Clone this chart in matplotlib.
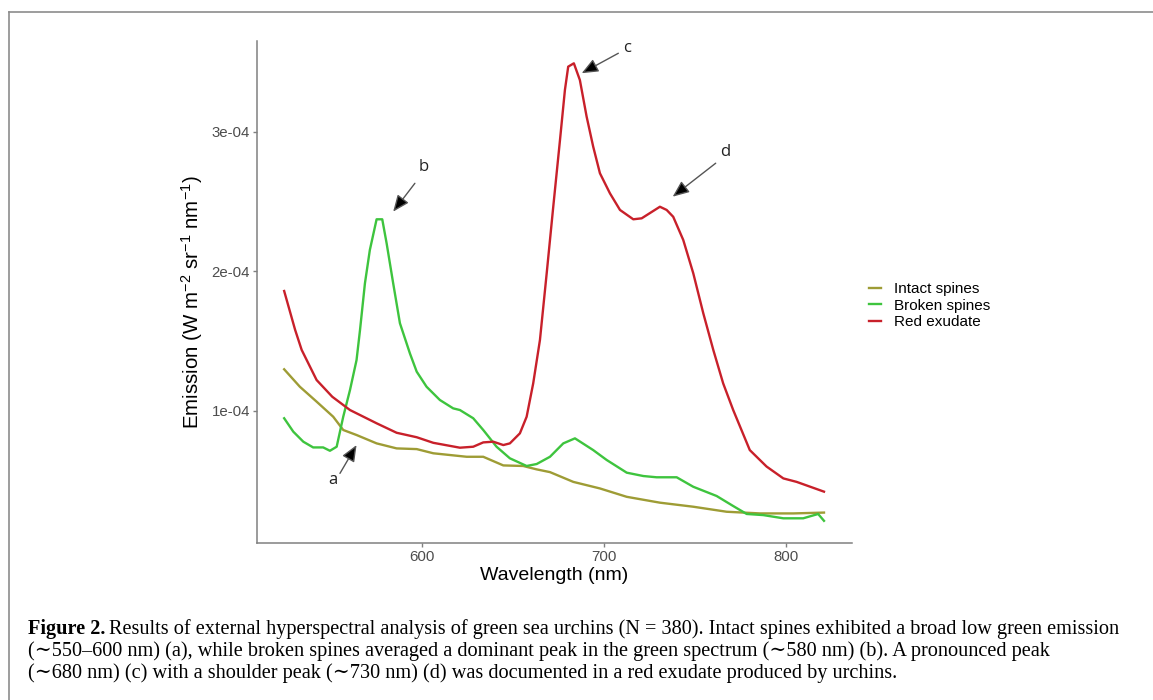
import matplotlib.pyplot as plt
from matplotlib.lines import Line2D

plt.rcParams['font.family'] = ['Liberation Sans', 'DejaVu Sans']
plt.rcParams['mathtext.fontset'] = 'custom'
plt.rcParams['mathtext.rm'] = 'Liberation Sans'
plt.rcParams['mathtext.it'] = 'Liberation Sans:italic'
plt.rcParams['mathtext.bf'] = 'Liberation Sans:bold'

# wavelength (nm) and emission (in units of 1e-4 W m-2 sr-1 nm-1)
intact_wl = [524.6, 533.2, 542.4, 551.5, 557.0, 564.3, 575.3, 586.3, 597.3, 606.4,
             624.7, 633.8, 644.8, 655.7, 663.0, 670.4, 683.2, 697.8, 712.5, 730.7,
             749.0, 767.3, 785.6, 803.9, 820.7]
intact_em = [1.297, 1.172, 1.065, 0.957, 0.862, 0.826, 0.766, 0.730, 0.725, 0.695,
             0.670, 0.670, 0.608, 0.604, 0.580, 0.560, 0.490, 0.443, 0.383, 0.341,
             0.312, 0.276, 0.264, 0.264, 0.270]

broken_wl = [524.6, 529.6, 535.1, 540.5, 546.0, 549.7, 553.4, 557.0, 560.7, 564.3,
             566.2, 568.9, 571.6, 575.3, 578.4, 580.8, 584.4, 588.1, 593.6, 597.3,
             602.7, 610.0, 617.3, 621.0, 628.3, 633.8, 641.1, 648.4, 657.6, 663.1,
             670.4, 677.7, 684.1, 694.1, 701.5, 712.5, 721.6, 728.9, 739.9, 749.0,
             761.8, 770.9, 778.3, 787.4, 798.4, 809.3, 817.5, 820.7]
broken_em = [0.946, 0.850, 0.778, 0.737, 0.737, 0.713, 0.742, 0.957, 1.148, 1.363,
             1.578, 1.913, 2.152, 2.372, 2.372, 2.200, 1.913, 1.627, 1.410, 1.280,
             1.172, 1.077, 1.017, 1.005, 0.946, 0.862, 0.742, 0.659, 0.604, 0.618,
             0.670, 0.766, 0.802, 0.718, 0.647, 0.556, 0.532, 0.523, 0.523, 0.455,
             0.389, 0.317, 0.260, 0.252, 0.229, 0.229, 0.260, 0.211]

red_wl = [524.6, 530.6, 534.2, 542.4, 551.0, 560.7, 575.3, 586.3, 597.3, 606.4,
          621.0, 628.3, 633.8, 639.3, 644.8, 648.4, 653.9, 657.6, 661.2, 664.9,
          668.6, 672.2, 675.9, 678.6, 680.4, 683.5, 686.8, 690.5, 694.1, 697.8,
          703.3, 708.8, 716.1, 720.7, 730.7, 734.4, 738.0, 743.5, 749.0, 754.5,
          760.0, 765.4, 770.9, 780.0, 789.2, 798.4, 805.7, 820.7]
red_em = [1.858, 1.580, 1.436, 1.220, 1.100, 1.005, 0.910, 0.842, 0.810, 0.770,
          0.735, 0.742, 0.773, 0.778, 0.754, 0.766, 0.838, 0.957, 1.196, 1.507,
          1.985, 2.462, 2.941, 3.299, 3.466, 3.490, 3.370, 3.108, 2.893, 2.702,
          2.558, 2.439, 2.372, 2.379, 2.462, 2.439, 2.390, 2.224, 1.985, 1.698,
          1.435, 1.196, 1.005, 0.718, 0.600, 0.515, 0.490, 0.420]

series = [('Intact spines', intact_wl, intact_em, '#9e9c35'),
          ('Broken spines', broken_wl, broken_em, '#3ec43e'),
          ('Red exudate', red_wl, red_em, '#c8202a')]

x_ticks = [600, 700, 800]
y_ticks = [1e-4, 2e-4, 3e-4]
y_ticklabels = ['1e-04', '2e-04', '3e-04']

caption_bold = 'Figure 2.'
caption_lines = [
    'Results of external hyperspectral analysis of green sea urchins (N = 380). Intact spines exhibited a broad low green emission',
    '(\u223c550\u2013600 nm) (a), while broken spines averaged a dominant peak in the green spectrum (\u223c580 nm) (b). A pronounced peak',
    '(\u223c680 nm) (c) with a shoulder peak (\u223c730 nm) (d) was documented in a red exudate produced by urchins.',
]

W, H = 1153, 700
fig = plt.figure(figsize=(W / 100, H / 100), dpi=100)
ax = fig.add_axes([257 / W, 1 - 543 / H, (851.7 - 257) / W, (543 - 40.7) / H])

for name, wl, em, col in series:
    ax.plot(wl, [v * 1e-4 for v in em], color=col, lw=1.7, label=name)

ax.set_xlim(509.7, 835.9)
ax.set_ylim(0.052e-4, 3.652e-4)
ax.set_xticks(x_ticks)
ax.set_yticks(y_ticks, y_ticklabels)
for s in ['top', 'right']:
    ax.spines[s].set_visible(False)
for s in ['left', 'bottom']:
    ax.spines[s].set_color('#808080')
    ax.spines[s].set_linewidth(1.1)
ax.tick_params(colors='#808080', labelcolor='#4d4d4d', labelsize=10.8, length=3, width=1, pad=2)
ax.set_xlabel('Wavelength (nm)', fontsize=14, labelpad=2)
ax.set_ylabel('Emission (W m$^{-2}$ sr$^{-1}$ nm$^{-1}$)', fontsize=14.8)
ax.yaxis.set_label_coords(-0.087, 0.48)

# a-d labels with arrows
notes = [('a', (551.5, 0.503e-4), (555.2, 0.551e-4), (564.3, 0.754e-4)),
         ('b', (601.3, 2.749e-4), (596.3, 2.630e-4), (584.4, 2.427e-4)),
         ('c', (712.5, 3.600e-4), (707.9, 3.562e-4), (687.8, 3.419e-4)),
         ('d', (766.4, 2.857e-4), (761.3, 2.774e-4), (737.7, 2.534e-4))]
for lab, txy, tail, head in notes:
    ax.annotate('', xy=head, xytext=tail,
                arrowprops=dict(arrowstyle='-|>,head_length=1.0,head_width=0.42',
                                fc='black', ec='#555555', lw=1, shrinkA=0, shrinkB=0))
    ax.text(txy[0], txy[1], lab, ha='center', va='center', fontsize=12,
            family=['Open Sans', 'DejaVu Sans'], color='#222222')

fig.legend(loc='upper left', bbox_to_anchor=(869 / W, 1 - 282 / H), frameon=False,
           fontsize=11, handlelength=0.8, handletextpad=0.85, labelspacing=0.18,
           borderpad=0, borderaxespad=0)

# frame round the figure
fig.add_artist(Line2D([9 / W, 9 / W], [0, 1 - 12.3 / H], color='#8c8c8c', lw=1.2))
fig.add_artist(Line2D([9 / W, 1], [1 - 12.3 / H, 1 - 12.3 / H], color='#8c8c8c', lw=1.2))

# caption
cap_font = ['Liberation Serif', 'DejaVu Serif']
cap_size = 14.6
renderer = fig.canvas.get_renderer()
ys = [629, 651, 673]
tb = fig.text(28 / W, 1 - ys[0] / H, caption_bold, weight='bold', fontsize=cap_size,
              family=cap_font, va='center')
x0 = tb.get_window_extent(renderer).x1 + 4
fig.text(x0 / W, 1 - ys[0] / H, caption_lines[0], fontsize=cap_size, family=cap_font, va='center')
for line, y in zip(caption_lines[1:], ys[1:]):
    fig.text(28 / W, 1 - y / H, line, fontsize=cap_size, family=cap_font, va='center')

fig.savefig('out.png', dpi=100)
